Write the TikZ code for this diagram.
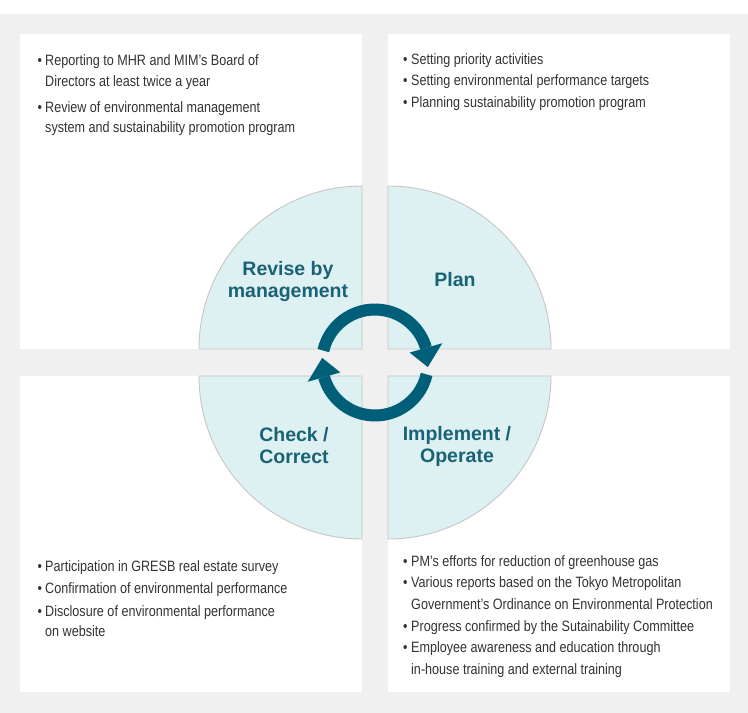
\documentclass[tikz,border=0pt]{standalone}
\usepackage{fontspec}
\usetikzlibrary{calc}
\setmainfont{Liberation Sans}[FakeStretch=0.84]
\newfontfamily\headfont{Liberation Sans}
\definecolor{bggray}{HTML}{F0F0F0}
\definecolor{qfill}{HTML}{DDF0F2}
\definecolor{qline}{HTML}{C6C6C6}
\definecolor{headteal}{HTML}{1A6276}
\definecolor{arrowteal}{HTML}{005F78}
\definecolor{bodytext}{HTML}{333333}
\tikzset{
  panel/.style={fill=white, draw=none},
  quarter/.style={fill=qfill, draw=qline, line width=0.9pt},
  head/.style={font=\headfont\bfseries\fontsize{19.5}{22}\selectfont, text=headteal, align=center, inner sep=0pt},
  txt/.style={font=\fontsize{15}{21}\selectfont, text=bodytext, anchor=base west, inner sep=0pt},
  bul/.style={font=\fontsize{15}{21}\selectfont, text=bodytext, anchor=base west, inner sep=0pt},
  ring/.style={draw=arrowteal, line width=12pt},
  tip/.style={fill=arrowteal, draw=none}
}
\begin{document}
\begin{tikzpicture}[x=1pt,y=1pt]
\useasboundingbox (0,0) rectangle (748,713);
\fill[white] (0,0) rectangle (748,713);
\fill[bggray] (0,0) rectangle (748,699);
% panels
\path[panel] (20,364) rectangle (362,679);
\path[panel] (388,364) rectangle (730,679);
\path[panel] (20,21) rectangle (362,337);
\path[panel] (388,21) rectangle (730,337);
% quarter circles
\path[quarter] (362,364) -- (199,364) arc[start angle=180, end angle=90, radius=163] -- cycle;
\path[quarter] (388,364) -- (388,527) arc[start angle=90, end angle=0, radius=163] -- cycle;
\path[quarter] (362,337) -- (362,174) arc[start angle=270, end angle=180, radius=163] -- cycle;
\path[quarter] (388,337) -- (551,337) arc[start angle=0, end angle=-90, radius=163] -- cycle;
% ring arrows
\coordinate (c) at (375,350.5);
\draw[ring] ($(c)+(167:53)$) arc[start angle=167, end angle=16, radius=53];
\fill[tip] ($(c)+(16:36)$) -- ($(c)+(16:70)$) -- ($(c)+(-5:53)$) -- cycle;
\draw[ring] ($(c)+(-13:53)$) arc[start angle=-13, end angle=-164, radius=53];
\fill[tip] ($(c)+(196:36)$) -- ($(c)+(196:70)$) -- ($(c)+(175:53)$) -- cycle;
% labels
\node[head] (revise) at (288,431) {Revise by\\management};
\node[head] (plan) at (455,433) {Plan};
\node[head] (check) at (294,267) {Check /\\Correct};
\node[head] (impl) at (457,267) {Implement /\\Operate};
% top-left
\node[bul] (tlb1) at (37.5,647) {•};
\node[txt] (tl1) at (45,647) {Reporting to MHR and MIM’s Board of};
\node[txt] (tl2) at (45,626) {Directors at least twice a year};
\node[bul] (tlb2) at (37.5,600) {•};
\node[txt] (tl3) at (45,600) {Review of environmental management};
\node[txt] (tl4) at (45,580) {system and sustainability promotion program};
% top-right
\node[bul] (trb1) at (403,648) {•};
\node[txt] (tr1) at (411,648) {Setting priority activities};
\node[bul] (trb2) at (403,627) {•};
\node[txt] (tr2) at (411,627) {Setting environmental performance targets};
\node[bul] (trb3) at (403,605) {•};
\node[txt] (tr3) at (411,605) {Planning sustainability promotion program};
% bottom-left
\node[bul] (blb1) at (37.5,141.3) {•};
\node[txt] (bl1) at (45,141.3) {Participation in GRESB real estate survey};
\node[bul] (blb2) at (37.5,119) {•};
\node[txt] (bl2) at (45,119) {Confirmation of environmental performance};
\node[bul] (blb3) at (37.5,96.3) {•};
\node[txt] (bl3) at (45,96.3) {Disclosure of environmental performance};
\node[txt] (bl4) at (45,76) {on website};
% bottom-right
\node[bul] (brb1) at (403,146.3) {•};
\node[txt] (br1) at (411,146.3) {PM’s efforts for reduction of greenhouse gas};
\node[bul] (brb2) at (403,125) {•};
\node[txt] (br2) at (411,125) {Various reports based on the Tokyo Metropolitan};
\node[txt] (br3) at (411,103) {Government’s Ordinance on Environmental Protection};
\node[bul] (brb3) at (403,81.3) {•};
\node[txt] (br4) at (411,81.3) {Progress confirmed by the Sutainability Committee};
\node[bul] (brb4) at (403,60) {•};
\node[txt] (br5) at (411,60) {Employee awareness and education through};
\node[txt] (br6) at (411,38) {in-house training and external training};
\end{tikzpicture}
\end{document}
